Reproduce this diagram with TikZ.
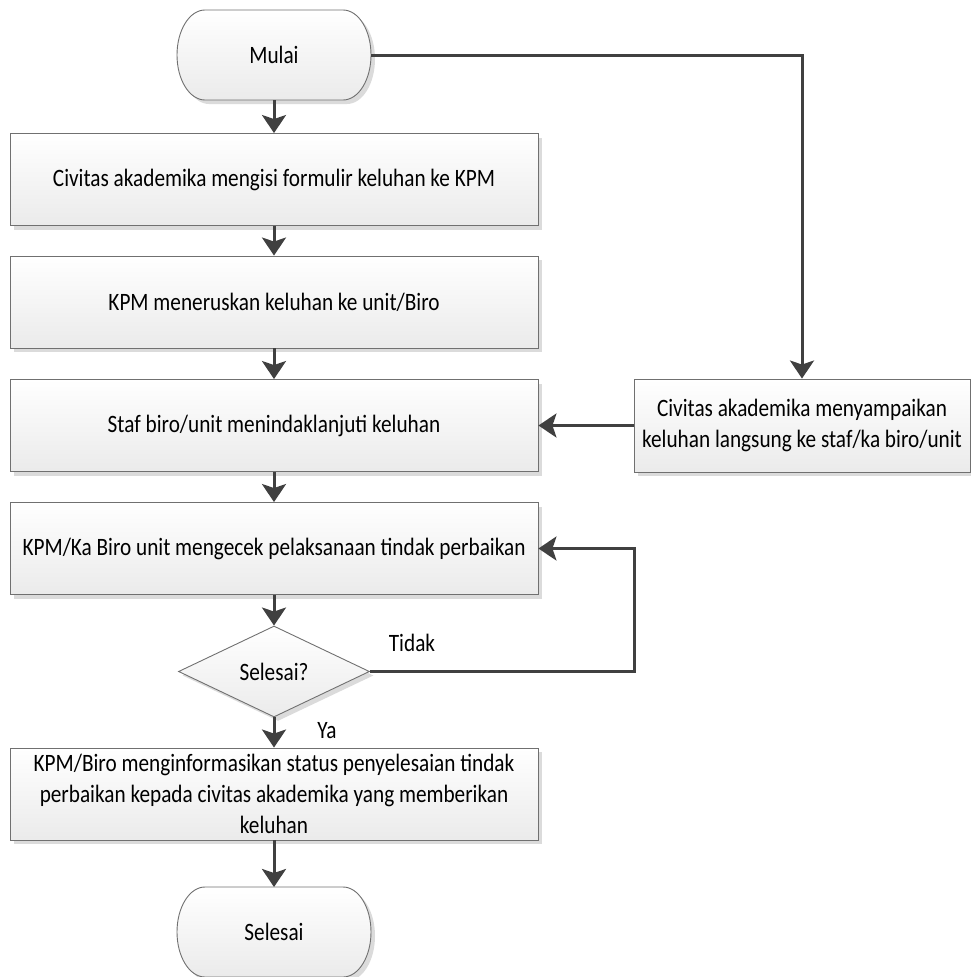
\documentclass[tikz,border=0pt]{standalone}
\usepackage{fontspec}
\setmainfont{Carlito}[FakeStretch=0.85]
\usetikzlibrary{shapes.geometric,shadows,arrows.meta}
\definecolor{linec}{HTML}{404040}
\definecolor{bordc}{HTML}{707070}
\tikzset{
  x=1pt,y=1pt,
  txt/.style={font=\fontsize{25}{31}\selectfont},
  shadowed/.style={drop shadow={shadow xshift=4pt,shadow yshift=-4pt,fill=black!14,opacity=1}},
  procbox/.style={rectangle,draw=bordc,line width=0.9pt,top color=white,bottom color=black!8,
    shadowed,minimum width=528pt,minimum height=92pt,inner sep=2pt,align=center,txt},
  sidebox/.style={procbox,minimum width=336pt,minimum height=93pt},
  termtext/.style={rectangle,draw=none,minimum width=194pt,minimum height=90pt,txt},
  decbox/.style={diamond,draw=bordc,line width=0.9pt,top color=white,bottom color=black!8,
    shadowed,minimum width=191pt,minimum height=91pt,inner sep=0pt,aspect=2,txt},
  lbl/.style={txt,inner sep=0pt},
  conn/.style={draw=linec,line width=3pt,-{Stealth[length=18pt,width=24pt,inset=4pt]}},
}
\newcommand{\termpath}[2]{% cx, cy
  \path[draw=bordc,line width=0.9pt,top color=white,bottom color=black!8,shadowed]
   (#1-69,#2+45) -- (#1+69,#2+45)
   arc[start angle=90,end angle=-90,x radius=28,y radius=45]
   -- (#1-69,#2-45)
   arc[start angle=270,end angle=90,x radius=28,y radius=45] -- cycle;
}
\begin{document}
\begin{tikzpicture}
\useasboundingbox (0,0) rectangle (971,-977);
\termpath{274}{-55}
\node[termtext] (mulai) at (274,-55) {Mulai};
\node[procbox] (b1) at (274,-179.5) {Civitas akademika mengisi formulir keluhan ke KPM};
\node[procbox] (b2) at (274,-302) {KPM meneruskan keluhan ke unit/Biro};
\node[procbox] (b3) at (274,-425.5) {Staf biro/unit menindaklanjuti keluhan};
\node[procbox] (b4) at (274,-548.5) {KPM/Ka Biro unit mengecek pelaksanaan tindak perbaikan};
\node[decbox] (d) at (274,-671.5) {Selesai?};
\node[procbox] (b5) at (274,-794) {KPM/Biro menginformasikan status penyelesaian tindak\\perbaikan kepada civitas akademika yang memberikan\\keluhan};
\termpath{274}{-932}
\node[termtext] (selesai) at (274,-932) {Selesai};
\node[sidebox] (r) at (802,-425.5) {Civitas akademika menyampaikan\\keluhan langsung ke staf/ka biro/unit};
\coordinate (c1) at (802,-55);
\coordinate (c2) at (634,-671.5);
\coordinate (c3) at (634,-548.5);
\path[conn] (mulai) -- (b1);
\path[conn] (b1) -- (b2);
\path[conn] (b2) -- (b3);
\path[conn] (b3) -- (b4);
\path[conn] (b4) -- (d);
\path[conn] (d) -- (b5);
\path[conn] (b5) -- (selesai.north |- 0,-887);
\path[conn] (mulai.east) -- (c1) -- (r.north);
\path[conn] (r.west) -- (b3.east);
\path[conn] (d.east) -- (c2) -- (c3) -- (b4.east);
\node[lbl] (tidak) at (412,-643) {Tidak};
\node[lbl] (ya) at (327,-731) {Ya};
\end{tikzpicture}
\end{document}
